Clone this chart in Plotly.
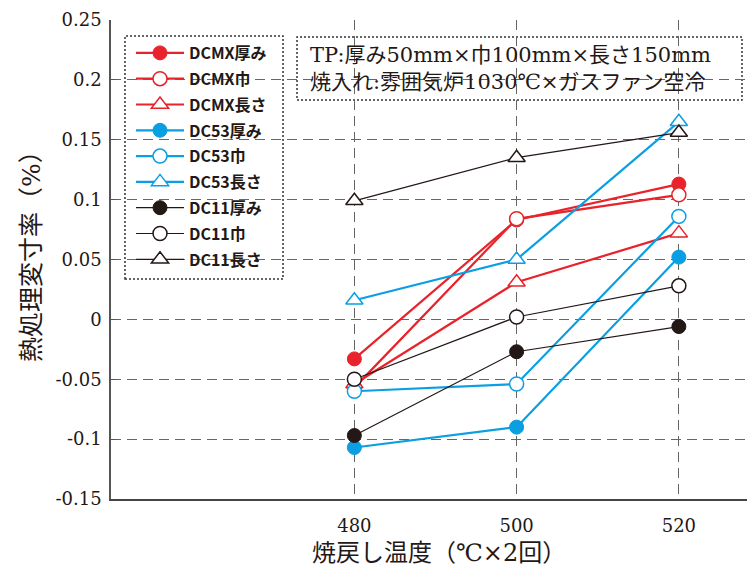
import plotly.graph_objects as go

# ---------------- data ----------------
temps = [480, 500, 520]
series_names = ["DCMX厚み", "DCMX巾", "DCMX長さ",
                "DC53厚み", "DC53巾", "DC53長さ",
                "DC11厚み", "DC11巾", "DC11長さ"]
dcmx_thick = [-0.033, 0.083, 0.113]
dcmx_width = [-0.057, 0.084, 0.104]
dcmx_length = [-0.054, 0.031, 0.072]
dc53_thick = [-0.107, -0.090, 0.052]
dc53_width = [-0.060, -0.054, 0.086]
dc53_length = [0.016, 0.050, 0.165]
dc11_thick = [-0.097, -0.027, -0.006]
dc11_width = [-0.050, 0.002, 0.028]
dc11_length = [0.099, 0.135, 0.156]
y_tickvals = [-0.15, -0.1, -0.05, 0, 0.05, 0.1, 0.15, 0.2, 0.25]
y_ticktext = ["-0.15", "-0.1", "-0.05", "0", "0.05", "0.1", "0.15", "0.2", "0.25"]
x_tickvals = [480, 500, 520]
x_ticktext = ["480", "500", "520"]
note_lines = ["TP:厚み50mm×巾100mm×長さ150mm", "焼入れ:雰囲気炉1030℃×ガスファン空冷"]
x_title = "焼戻し温度（℃×2回）"
y_title = "熱処理変寸率（%）"

# ---------------- style ----------------
W, H = 747, 577
ML, MR, MT, MB = 111, 0, 20, 78
PW, PH = W - ML - MR, H - MT - MB

def px_x(p):
    return (p - ML) / PW

def px_y(p):
    return (H - MB - p) / PH

RED = "#E8232B"
BLUE = "#0A9FE3"
BLACK = "#231815"
SERIF = "DejaVu Serif, Noto Sans CJK JP"
SANS = "Noto Sans CJK JP"
TXT = "#231815"

values = [dcmx_thick, dcmx_width, dcmx_length,
          dc53_thick, dc53_width, dc53_length,
          dc11_thick, dc11_width, dc11_length]
colors = [RED] * 3 + [BLUE] * 3 + [BLACK] * 3
lw = [2.2] * 6 + [1.2] * 3
kinds = ["filled", "open", "tri"] * 3

fig = go.Figure()
for i, (name, vals) in enumerate(zip(series_names, values)):
    c = colors[i]
    k = kinds[i]
    if k == "filled":
        marker = dict(symbol="circle", size=14, color=c, line=dict(color=c, width=1))
    elif k == "open":
        marker = dict(symbol="circle", size=14, color="white", line=dict(color=c, width=1.5))
    else:
        marker = dict(symbol="triangle-up", size=15, color="white", line=dict(color=c, width=1.5))
    fig.add_trace(go.Scatter(
        x=temps, y=vals, name=name, mode="lines+markers",
        line=dict(color=c, width=lw[i]), marker=marker,
        legendgroup="g%d" % i,
    ))

# legend box (dotted)
fig.add_shape(type="rect", xref="paper", yref="paper",
              x0=px_x(125), x1=px_x(283), y0=px_y(279), y1=px_y(36),
              line=dict(color="#333", width=1.5, dash="2px,2px"),
              fillcolor="white", layer="between")
# note box (dotted)
fig.add_shape(type="rect", xref="paper", yref="paper",
              x0=px_x(297), x1=px_x(742), y0=px_y(100), y1=px_y(37),
              line=dict(color="#333", width=1.5, dash="2px,2px"),
              fillcolor="white", layer="between")

fig.add_annotation(xref="paper", yref="paper", x=px_x(308), y=px_y(69),
                   xanchor="left", yanchor="middle", align="left",
                   text="<br>".join(note_lines), showarrow=False,
                   font=dict(family=SERIF, size=21, color=TXT))

# axis titles
fig.add_annotation(xref="paper", yref="paper", x=px_x(310), y=px_y(553),
                   xanchor="left", yanchor="middle", text=x_title, showarrow=False,
                   font=dict(family=SERIF, size=24, color=TXT))
fig.add_annotation(xref="paper", yref="paper", x=px_x(31), y=px_y(250),
                   xanchor="center", yanchor="middle", textangle=-90,
                   text=y_title, showarrow=False,
                   font=dict(family=SERIF, size=25, color=TXT))

fig.update_layout(
    width=W, height=H,
    margin=dict(l=ML, r=MR, t=MT, b=MB, pad=0),
    paper_bgcolor="white", plot_bgcolor="white",
    showlegend=True,
    legend=dict(x=px_x(131), y=px_y(36), xanchor="left", yanchor="top",
                bgcolor="rgba(0,0,0,0)", borderwidth=0,
                font=dict(family=SANS, size=16, color=TXT, weight=600),
                traceorder="grouped", tracegroupgap=2, itemwidth=48),
    xaxis=dict(range=[450, 528.4], tickvals=x_tickvals, ticktext=x_ticktext,
               showgrid=True, gridcolor="#666", gridwidth=1.3, griddash="10px,6px",
               showline=True, linecolor="#444", linewidth=1.5,
               ticks="", zeroline=False,
               tickfont=dict(family="DejaVu Serif", size=18, color=TXT),
               ticklabelstandoff=10),
    yaxis=dict(range=[-0.15, 0.25], tickvals=y_tickvals, ticktext=y_ticktext,
               showgrid=True, gridcolor="#666", gridwidth=1.3, griddash="10px,6px",
               showline=True, linecolor="#555", linewidth=1.5,
               ticks="inside", ticklen=5, tickcolor="#555", zeroline=False,
               tickfont=dict(family="DejaVu Serif", size=18, color=TXT),
               ticklabelstandoff=4),
)

fig.write_html("out.html", config={"displayModeBar": False},
               post_script="document.body.style.margin='0';document.body.style.padding='0';")
